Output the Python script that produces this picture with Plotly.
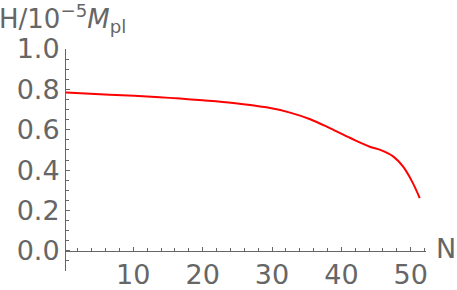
import plotly.graph_objects as go

N_vals = [0.3, 6.6, 13.8, 20.0, 24.4, 29.2, 32.6, 35.5, 38.4, 41.3, 44.1, 45.6, 47.5, 48.9, 50.2, 51.3]
H_vals = [0.784, 0.774, 0.761, 0.746, 0.733, 0.711, 0.685, 0.652, 0.607, 0.559, 0.516, 0.500, 0.467, 0.417, 0.343, 0.261]

x_ticks = [10, 20, 30, 40, 50]
y_ticks = [0.0, 0.2, 0.4, 0.6, 0.8, 1.0]
y_tick_text = ["0.0", "0.2", "0.4", "0.6", "0.8", "1.0"]

grey = "#666666"
font_family = "DejaVu Sans"
fs = 27

fig = go.Figure()
fig.add_trace(go.Scatter(x=N_vals, y=H_vals, mode="lines",
                         line=dict(color="#ff0000", width=2, shape="spline", smoothing=1.0),
                         hoverinfo="skip", showlegend=False))

W, H = 457, 290
ml, mr, mt, mb = 66, 31, 49, 19
pw = W - ml - mr
ph = H - mt - mb
ymin, ymax = -0.1, 1.0001

fig.update_layout(
    width=W, height=H,
    margin=dict(l=ml, r=mr, t=mt, b=mb, pad=0, autoexpand=False),
    paper_bgcolor="white", plot_bgcolor="white",
    font=dict(family=font_family, color=grey, size=fs),
    xaxis=dict(range=[0.3, 52.2], anchor="free", position=(0 - ymin) / (ymax - ymin),
               automargin=False,
               showgrid=False, zeroline=False, showline=True, linecolor=grey, linewidth=1,
               tickvals=x_ticks, ticks="inside", ticklen=4, tickcolor=grey, tickwidth=1,
               minor=dict(dtick=2, tick0=0, ticks="inside", ticklen=2.5, tickcolor=grey, showgrid=False),
               tickfont=dict(size=fs, color=grey, family=font_family)),
    yaxis=dict(range=[ymin, ymax], automargin=False, showgrid=False, zeroline=False, showline=True,
               linecolor=grey, linewidth=1,
               tickvals=y_ticks, ticktext=y_tick_text, ticks="inside", ticklen=4,
               tickcolor=grey, tickwidth=1,
               minor=dict(dtick=0.05, tick0=0, ticks="inside", ticklen=2.5, tickcolor=grey, showgrid=False),
               tickfont=dict(size=fs, color=grey, family=font_family)),
)

fig.add_annotation(text="H/10<sup>−5</sup><i>M</i><sub>pl</sub>", xref="paper", yref="paper",
                   x=(-3 - ml) / pw, y=1 + (mt + 2) / ph, xanchor="left", yanchor="top",
                   showarrow=False, font=dict(size=26, color=grey, family=font_family))
fig.add_annotation(text="N", xref="paper", yref="paper",
                   x=(458 - ml) / pw, y=(H - mb - 248) / ph, xanchor="right", yanchor="middle",
                   showarrow=False, font=dict(size=fs, color=grey, family=font_family))

fig.write_html("out.html", config={"displayModeBar": False},
               post_script="document.body.style.margin='0px';")
